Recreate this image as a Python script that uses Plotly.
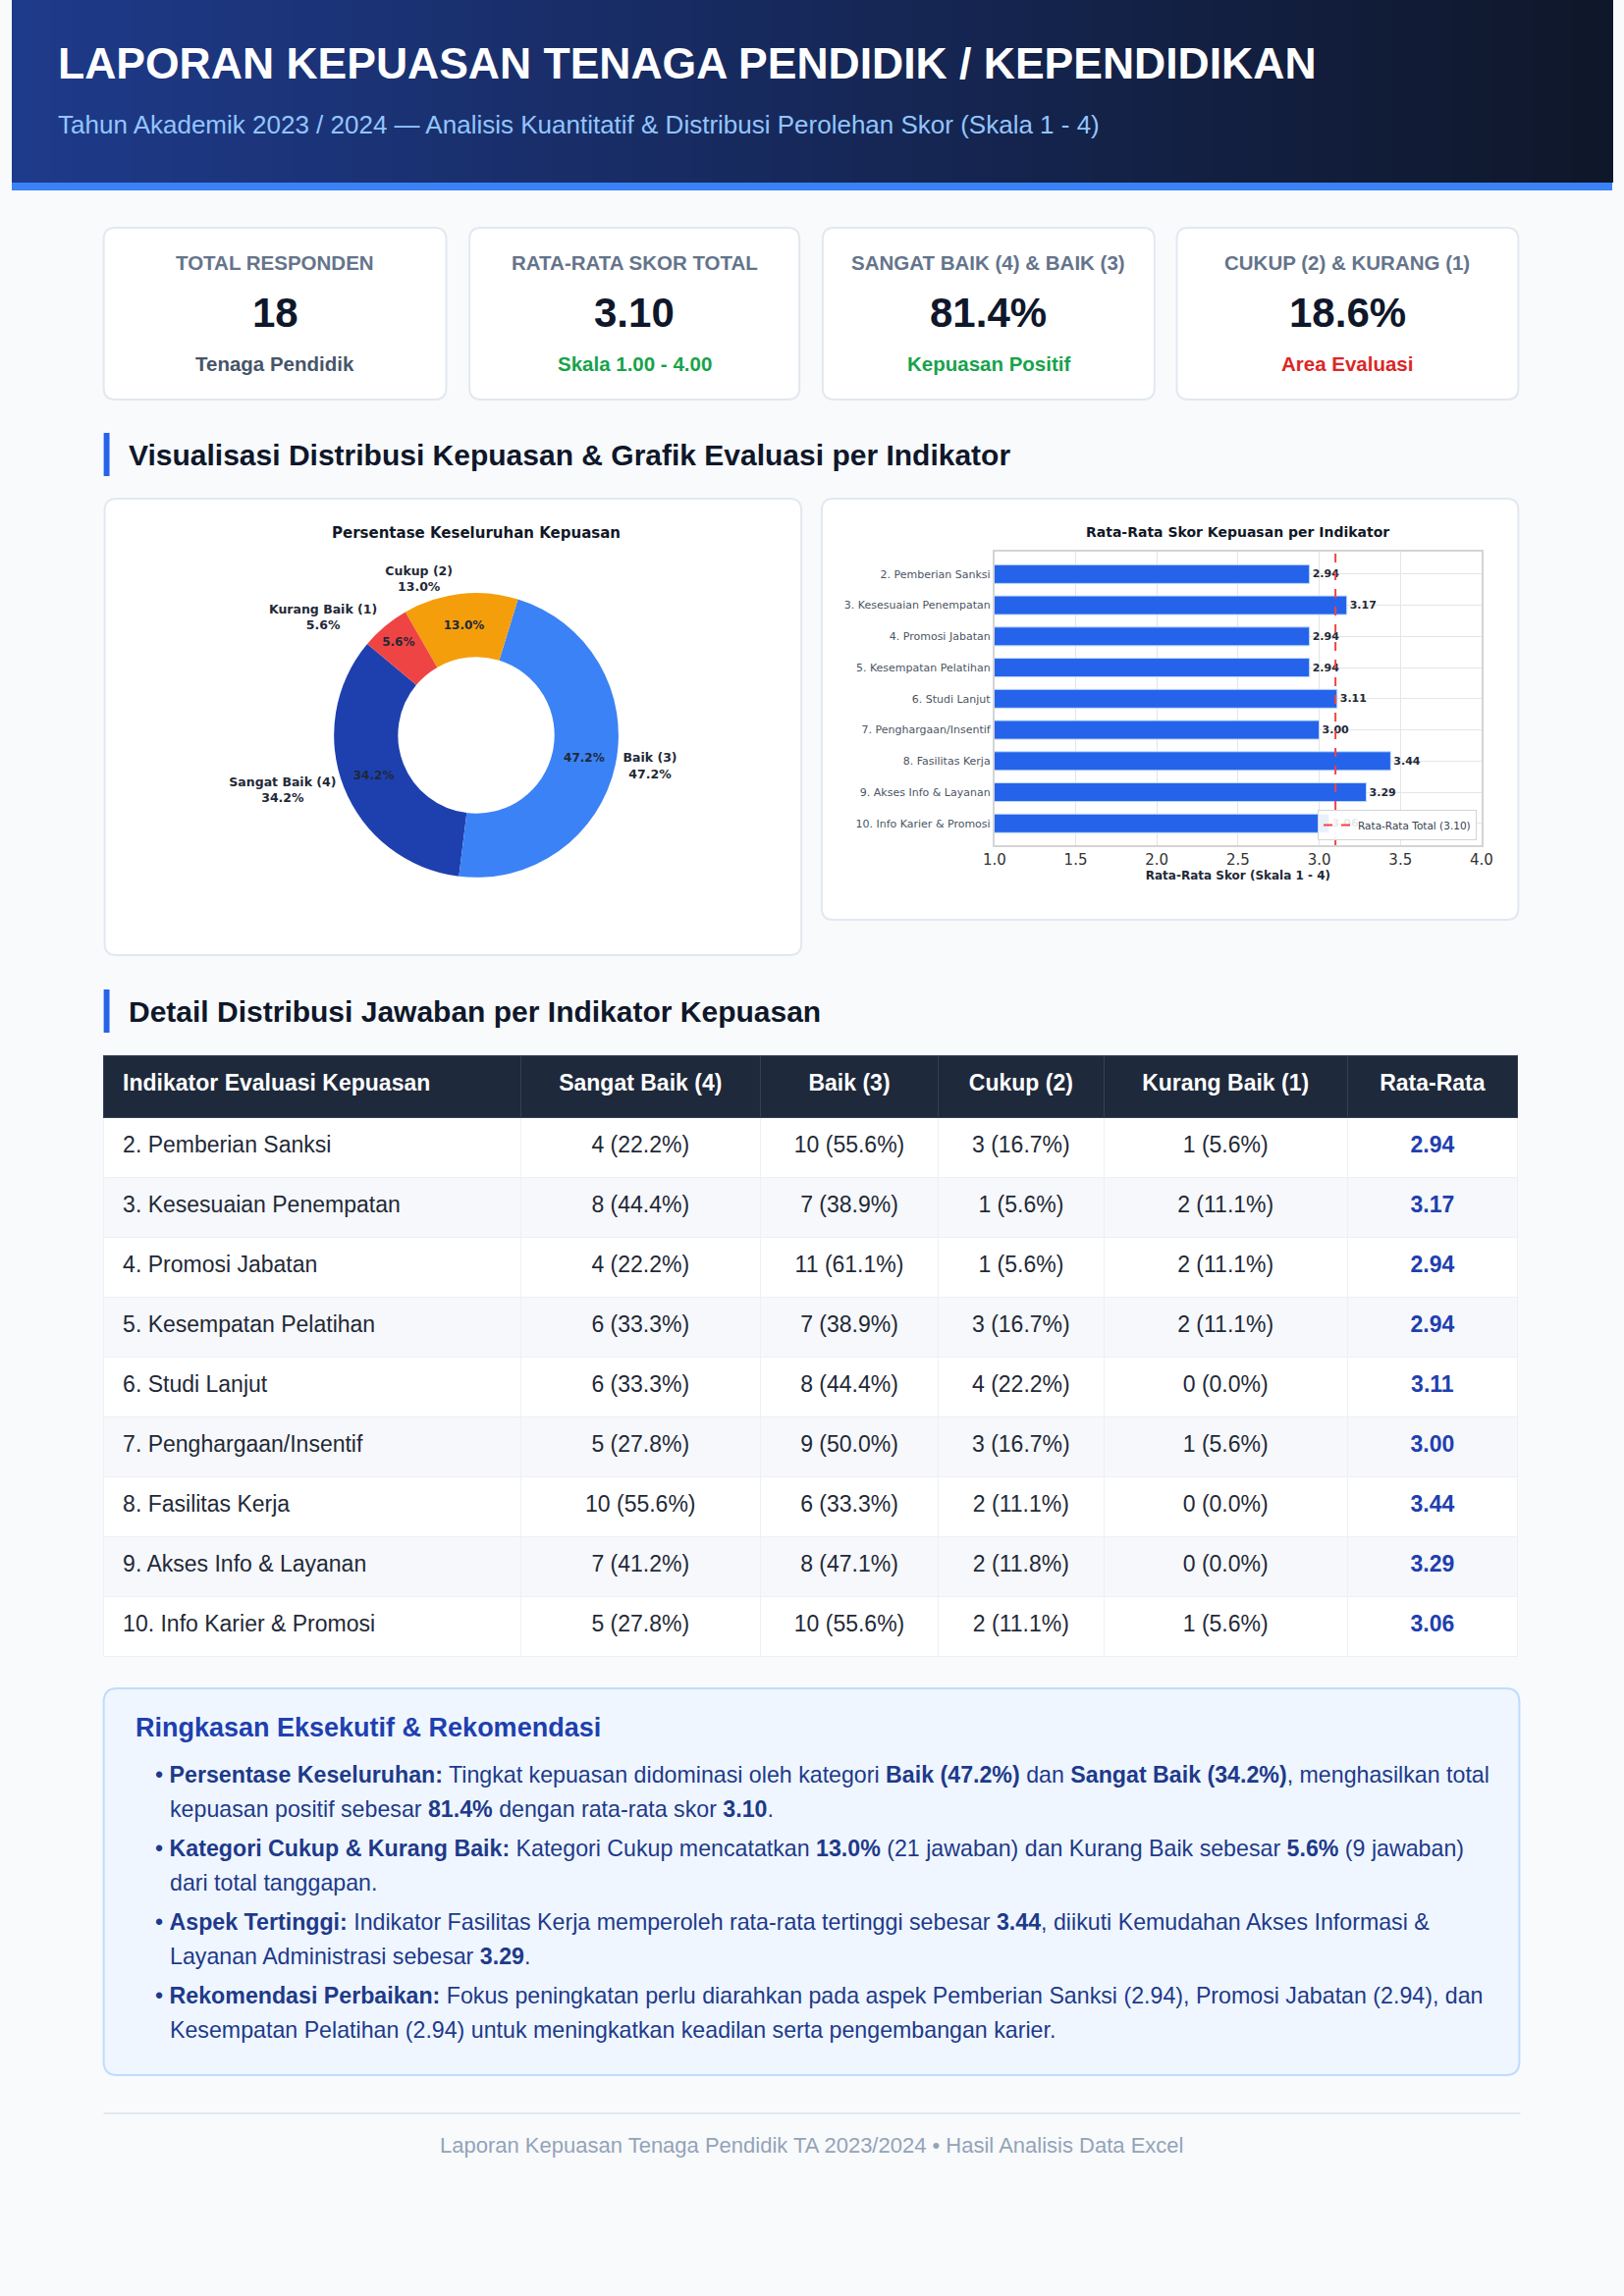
# Laporan kepuasan tenaga pendidik - dashboard satu halaman dengan plotly

import plotly.graph_objects as go

# ---------------- data ----------------
indikator = [
    "2. Pemberian Sanksi",
    "3. Kesesuaian Penempatan",
    "4. Promosi Jabatan",
    "5. Kesempatan Pelatihan",
    "6. Studi Lanjut",
    "7. Penghargaan/Insentif",
    "8. Fasilitas Kerja",
    "9. Akses Info & Layanan",
    "10. Info Karier & Promosi",
]
sangat_baik = [4, 8, 4, 6, 6, 5, 10, 7, 5]
baik = [10, 7, 11, 7, 8, 9, 6, 8, 10]
cukup = [3, 1, 1, 3, 4, 3, 2, 2, 2]
kurang_baik = [1, 2, 2, 2, 0, 1, 0, 0, 1]
rata_rata = [2.94, 3.17, 2.94, 2.94, 3.11, 3.00, 3.44, 3.29, 3.06]
rata_total = 3.10

kategori = ["Sangat Baik (4)", "Baik (3)", "Cukup (2)", "Kurang Baik (1)"]
warna_kategori = ["#1e40af", "#3b82f6", "#f59e0b", "#ef4444"]

kpi_judul = ["TOTAL RESPONDEN", "RATA-RATA SKOR TOTAL", "SANGAT BAIK (4) & BAIK (3)", "CUKUP (2) & KURANG (1)"]
kpi_nilai = ["18", "3.10", "81.4%", "18.6%"]
kpi_ket = ["Tenaga Pendidik", "Skala 1.00 - 4.00", "Kepuasan Positif", "Area Evaluasi"]
kpi_warna_ket = ["#475569", "#16a34a", "#16a34a", "#dc2626"]

kolom_tabel = ["Indikator Evaluasi Kepuasan", "Sangat Baik (4)", "Baik (3)", "Cukup (2)", "Kurang Baik (1)", "Rata-Rata"]

ringkasan = [
    ["<b>Persentase Keseluruhan:</b> Tingkat kepuasan didominasi oleh kategori <b>Baik (47.2%)</b> dan "
     "<b>Sangat Baik (34.2%)</b>, menghasilkan total",
     "kepuasan positif sebesar <b>81.4%</b> dengan rata-rata skor <b>3.10</b>."],
    ["<b>Kategori Cukup & Kurang Baik:</b> Kategori Cukup mencatatkan <b>13.0%</b> (21 jawaban) dan "
     "Kurang Baik sebesar <b>5.6%</b> (9 jawaban)",
     "dari total tanggapan."],
    ["<b>Aspek Tertinggi:</b> Indikator Fasilitas Kerja memperoleh rata-rata tertinggi sebesar <b>3.44</b>, "
     "diikuti Kemudahan Akses Informasi &",
     "Layanan Administrasi sebesar <b>3.29</b>."],
    ["<b>Rekomendasi Perbaikan:</b> Fokus peningkatan perlu diarahkan pada aspek Pemberian Sanksi (2.94), "
     "Promosi Jabatan (2.94), dan",
     "Kesempatan Pelatihan (2.94) untuk meningkatkan keadilan serta pengembangan karier."],
]

# ---------------- helpers ----------------
W, H = 1654, 2339
SANS = "Liberation Sans, Arial, sans-serif"
MPL = "DejaVu Sans, sans-serif"


def px(x):
    return x / W


def py(y):
    return 1 - y / H


def rrect(x0, y0, x1, y1, r):
    """rounded rectangle path in paper coords, input in pixels"""
    return (f"M {px(x0 + r)},{py(y0)} L {px(x1 - r)},{py(y0)} Q {px(x1)},{py(y0)} {px(x1)},{py(y0 + r)} "
            f"L {px(x1)},{py(y1 - r)} Q {px(x1)},{py(y1)} {px(x1 - r)},{py(y1)} "
            f"L {px(x0 + r)},{py(y1)} Q {px(x0)},{py(y1)} {px(x0)},{py(y1 - r)} "
            f"L {px(x0)},{py(y0 + r)} Q {px(x0)},{py(y0)} {px(x0 + r)},{py(y0)} Z")


shapes = []
annotations = []


def ann(text, x, y, size, color, xanchor="left", family=SANS):
    annotations.append(dict(text=text, x=px(x), y=py(y), xref="paper", yref="paper",
                            xanchor=xanchor, yanchor="middle", showarrow=False,
                            font=dict(family=family, size=size, color=color)))


def card(x0, y0, x1, y1, fill="white", border="#e2e8f0", r=12):
    shapes.append(dict(type="path", path=rrect(x0, y0, x1, y1, r), xref="paper", yref="paper",
                       fillcolor=fill, line=dict(color=border, width=2), layer="below"))


def lerp_hex(c0, c1, t):
    a = [int(c0[i:i + 2], 16) for i in (1, 3, 5)]
    b = [int(c1[i:i + 2], 16) for i in (1, 3, 5)]
    return "#" + "".join(f"{round(a[k] + (b[k] - a[k]) * t):02x}" for k in range(3))


# ---------------- header ----------------
n_strip = 80
for i in range(n_strip):
    shapes.append(dict(type="rect", xref="paper", yref="paper",
                       x0=px(i * W / n_strip), x1=px((i + 1) * W / n_strip + 1), y0=py(186), y1=py(0),
                       fillcolor=lerp_hex("#1e3a8a", "#0f172a", i / (n_strip - 1)),
                       line=dict(width=0), layer="below"))
shapes.append(dict(type="rect", xref="paper", yref="paper", x0=0, x1=1, y0=py(194), y1=py(186),
                   fillcolor="#3b82f6", line=dict(width=0), layer="below"))

ann("<b>LAPORAN KEPUASAN TENAGA PENDIDIK / KEPENDIDIKAN</b>", 46, 65, 44.5, "#ffffff")
ann("Tahun Akademik 2023 / 2024 — Analisis Kuantitatif & Distribusi Perolehan Skor (Skala 1 - 4)",
    46, 127, 26, "#93c5fd")

# ---------------- KPI cards ----------------
kpi_x = [(95, 449), (473, 814), (838, 1181), (1204, 1557)]
for (x0, x1), judul, nilai, ket, wk in zip(kpi_x, kpi_judul, kpi_nilai, kpi_ket, kpi_warna_ket):
    card(x0, 232, x1, 407)
    cx = (x0 + x1) / 2
    ann(f"<b>{judul}</b>", cx, 268, 20.5, "#64748b", "center")
    ann(f"<b>{nilai}</b>", cx, 318, 42, "#0f172a", "center")
    ann(f"<b>{ket}</b>", cx, 370, 20.5, wk, "center")

# ---------------- section headings ----------------
for y0, y1, teks in [(441, 485, "Visualisasi Distribusi Kepuasan & Grafik Evaluasi per Indikator"),
                     (1008, 1052, "Detail Distribusi Jawaban per Indikator Kepuasan")]:
    shapes.append(dict(type="rect", xref="paper", yref="paper", x0=px(95), x1=px(101), y0=py(y1), y1=py(y0),
                       fillcolor="#2563eb", line=dict(width=0), layer="below"))
    ann(f"<b>{teks}</b>", 119, (y0 + y1) / 2, 30, "#0f172a")

# ---------------- chart cards ----------------
card(96, 508, 816, 973)
card(837, 508, 1557, 937)

fig = go.Figure()

# donut
totals = [sum(sangat_baik), sum(baik), sum(cukup), sum(kurang_baik)]
pie_dom = dict(x=[px(333), px(627)], y=[py(896), py(602)])
fig.add_trace(go.Pie(
    labels=kategori, values=totals, hole=0.55, sort=False, direction="counterclockwise", rotation=-173,
    marker=dict(colors=warna_kategori, line=dict(color="white", width=0)),
    texttemplate="<b>%{percent:.1%}</b>", textposition="inside", insidetextorientation="horizontal",
    insidetextfont=dict(family=MPL, size=12, color="#1f2937"),
    domain=pie_dom, showlegend=False,
))
fig.add_trace(go.Pie(
    labels=kategori, values=totals, hole=0.55, sort=False, direction="counterclockwise", rotation=-173,
    marker=dict(colors=["rgba(0,0,0,0)"] * 4, line=dict(width=0)),
    texttemplate="<b>%{label}</b><br><b>%{percent:.1%}</b>", textposition="outside",
    outsidetextfont=dict(family=MPL, size=12.5, color="#1f2937"),
    domain=pie_dom, showlegend=False, hoverinfo="skip",
))
ann("<b>Persentase Keseluruhan Kepuasan</b>", 480, 543, 15, "#111827", "center", MPL)

# bar chart
fig.add_trace(go.Bar(
    x=rata_rata, y=indikator, orientation="h", width=0.6,
    marker=dict(color="#2563eb", line=dict(color="#bfdbfe", width=1)),
    texttemplate="<b>%{x:.2f}</b>", textposition="outside", cliponaxis=False, constraintext="none",
    textfont=dict(family=MPL, size=11, color="#1f2937"), showlegend=False,
))
shapes.append(dict(type="line", xref="x", yref="y domain", x0=rata_total, x1=rata_total, y0=0, y1=1,
                   line=dict(color="#ef4444", width=2, dash="dash"), layer="above",
                   showlegend=True, name=f"Rata-Rata Total ({rata_total:.2f})"))
ann("<b>Rata-Rata Skor Kepuasan per Indikator</b>", 1267, 542, 14, "#111827", "center", MPL)

# ---------------- table ----------------
def sel(n, t):
    return f"<span>{n} ({n / t * 100:.1f}%)</span>"


row_tot = [a + b + c + d for a, b, c, d in zip(sangat_baik, baik, cukup, kurang_baik)]
kol = [
    ["<span>\u2002" + s + "</span>" for s in indikator],
    [sel(n, t) for n, t in zip(sangat_baik, row_tot)],
    [sel(n, t) for n, t in zip(baik, row_tot)],
    [sel(n, t) for n, t in zip(cukup, row_tot)],
    [sel(n, t) for n, t in zip(kurang_baik, row_tot)],
    [f"<b>{v:.2f}</b>" for v in rata_rata],
]
kepala = ["\u2002<b>" + kolom_tabel[0] + "</b>"] + [f"<b>{k}</b>" for k in kolom_tabel[1:]]
row_fill = ["#ffffff" if i % 2 == 0 else "#f6f8fb" for i in range(len(indikator))]
lebar_kolom = [431, 248, 184, 171, 252, 176]
rata_kolom = ["left"] + ["center"] * 5

# layer 1: fills and grid lines
fig.add_trace(go.Table(
    domain=dict(x=[px(95), px(1557)], y=[py(1690), py(1075)]),
    columnwidth=lebar_kolom,
    header=dict(values=[""] * 6, fill_color="#1e293b", line=dict(color="#334155", width=1), height=63),
    cells=dict(values=[[""] * len(indikator)] * 6, fill_color=[row_fill] * 6,
               line=dict(color="#edf0f4", width=1), height=61),
))
# layer 2: text, nudged down so it sits in the middle of each row
geser = 7
fig.add_trace(go.Table(
    domain=dict(x=[px(95), px(1557)], y=[py(1690 + geser), py(1075 + geser)]),
    columnwidth=lebar_kolom,
    header=dict(values=kepala, fill_color="rgba(0,0,0,0)", line=dict(color="rgba(0,0,0,0)", width=0),
                height=63, align=rata_kolom, font=dict(family=SANS, size=23, color="white")),
    cells=dict(values=kol, fill_color="rgba(0,0,0,0)", line=dict(color="rgba(0,0,0,0)", width=0), height=61,
               align=rata_kolom,
               font=dict(family=SANS, size=23, color=["#1f2937"] * 5 + ["#1e40af"])),
))

# ---------------- ringkasan ----------------
card(95, 1720, 1558, 2114, fill="#eff6ff", border="#bfdbfe", r=14)
ann("<b>Ringkasan Eksekutif & Rekomendasi</b>", 126, 1760, 27, "#1e40af")
for i, (baris1, baris2) in enumerate(ringkasan):
    y = 1808 + i * 75
    ann("• " + baris1, 146, y, 23.2, "#1e3a8a")
    ann(baris2, 161, y + 35, 23.2, "#1e3a8a")

# ---------------- footer ----------------
shapes.append(dict(type="rect", xref="paper", yref="paper", x0=px(95), x1=px(1559), y0=py(2154), y1=py(2152),
                   fillcolor="#e2e8f0", line=dict(width=0), layer="below"))
ann("Laporan Kepuasan Tenaga Pendidik TA 2023/2024 • Hasil Analisis Data Excel", 826, 2185, 22, "#94a3b8", "center")

fig.update_layout(
    width=W, height=H, autosize=False,
    margin=dict(l=0, r=0, t=0, b=0),
    paper_bgcolor="#f8fafc", plot_bgcolor="white",
    font=dict(family=SANS),
    shapes=shapes, annotations=annotations,
    xaxis=dict(domain=[px(1015.6), px(1519)], range=[1, 4], dtick=0.5, tickformat=".1f",
               showgrid=True, gridcolor="#e5e5e5", zeroline=False,
               showline=True, mirror=True, linecolor="#d4d4d4", linewidth=2, ticks="",
               tickfont=dict(family=MPL, size=15, color="#333333"),
               title=dict(text="<b>Rata-Rata Skor (Skala 1 - 4)</b>", standoff=4,
                          font=dict(family=MPL, size=12, color="#1f2937")),
               anchor="y"),
    yaxis=dict(domain=[py(861), py(562)], type="category", range=[8.7, -0.72],
               showgrid=True, gridcolor="#e5e5e5", zeroline=False,
               showline=True, mirror=True, linecolor="#d4d4d4", linewidth=2, ticks="",
               tickfont=dict(family=MPL, size=11, color="#4b5563"),
               anchor="x"),
    legend=dict(x=px(1514), y=py(856), xanchor="right", yanchor="bottom", itemwidth=30,
                bgcolor="rgba(255,255,255,0.9)", bordercolor="#d4d4d4", borderwidth=1,
                font=dict(family=MPL, size=10.5, color="#374151")),
)

# the page is photographed at the figure size: no body margin, no scrollbars, no modebar
halaman_js = ("document.documentElement.style.overflow='hidden';"
              "document.documentElement.style.background='#f8fafc';"
              "document.body.style.overflow='hidden';"
              "document.body.style.margin='0';"
              "document.body.style.background='#f8fafc';")
fig.write_html("out.html", config={"displayModeBar": False}, post_script=halaman_js)
